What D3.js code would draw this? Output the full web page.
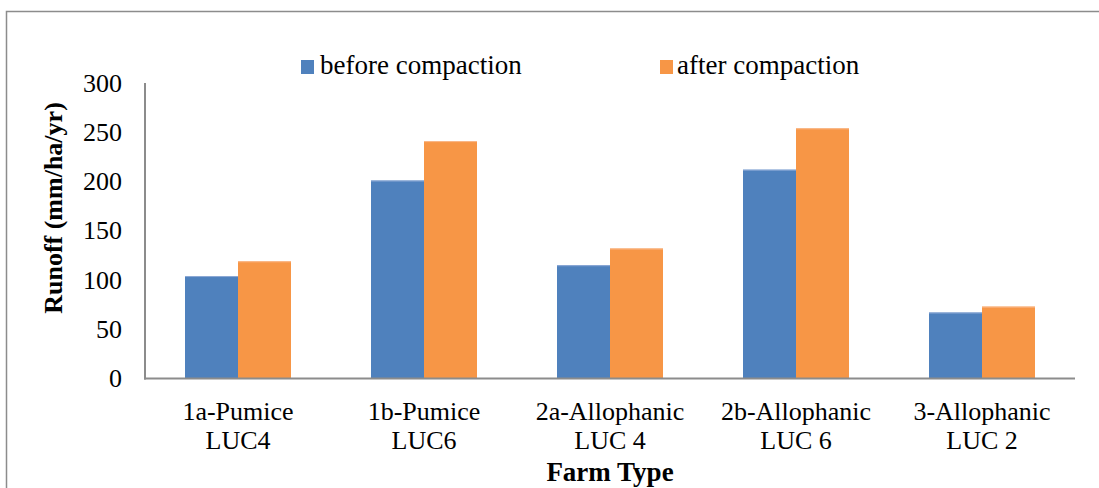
<!DOCTYPE html>
<html>
<head>
<meta charset="utf-8">
<script src="https://cdn.jsdelivr.net/npm/d3@7"></script>
<style>
  html, body { margin: 0; padding: 0; background: #fff; }
  svg { display: block; }
  text { font-family: "Liberation Serif", "Times New Roman", serif; fill: #000; }
</style>
</head>
<body>
<svg id="chart" width="1099" height="488"></svg>
<script>
const categories = [["1a-Pumice", "LUC4"], ["1b-Pumice", "LUC6"], ["2a-Allophanic", "LUC 4"], ["2b-Allophanic", "LUC 6"], ["3-Allophanic", "LUC 2"]];
const seriesNames = ["before compaction", "after compaction"];
const beforeValues = [104, 201, 115, 212, 67];
const afterValues = [119, 241, 132, 254, 73];
const yTicks = [0, 50, 100, 150, 200, 250, 300];
const colors = ["#4F81BD", "#F79646"];
const edgeColors = ["#8EAAD6", "#FAB98C"];

const svg = d3.select("#chart");

// outer chart border (extends beyond right/bottom edge)
svg.append("rect")
  .attr("x", 6.5).attr("y", 11.5)
  .attr("width", 1200).attr("height", 600)
  .attr("fill", "none").attr("stroke", "#8c8c8c").attr("stroke-width", 1.5);

const plot = { left: 145, right: 1075, top: 83, bottom: 378.5 };

const x0 = d3.scaleBand()
  .domain(categories.map((d, i) => i))
  .range([plot.left, plot.right])
  .paddingInner(0)
  .paddingOuter(0);

const barW = 53;
const y = d3.scaleLinear().domain([0, 300]).range([plot.bottom, plot.top]);

const data = categories.map((c, i) => ({ i, vals: [beforeValues[i], afterValues[i]] }));

const groups = svg.append("g").selectAll("g").data(data).join("g");
groups.each(function(d) {
  const g = d3.select(this);
  const cx = x0(d.i) + x0.bandwidth() / 2;
  d.vals.forEach((v, s) => {
    const bx = cx - barW + s * barW;
    g.append("rect")
      .attr("x", bx).attr("y", y(v))
      .attr("width", barW).attr("height", y(0) - y(v))
      .attr("fill", colors[s]);
    g.append("line")
      .attr("x1", bx).attr("x2", bx + barW)
      .attr("y1", y(v) + 0.5).attr("y2", y(v) + 0.5)
      .attr("stroke", edgeColors[s]).attr("stroke-width", 1);
  });
});

// y axis line
svg.append("line")
  .attr("x1", plot.left).attr("x2", plot.left)
  .attr("y1", plot.top).attr("y2", plot.bottom + 1)
  .attr("stroke", "#8c8c8c").attr("stroke-width", 2);
// x axis line
svg.append("line")
  .attr("x1", plot.left - 1).attr("x2", plot.right)
  .attr("y1", plot.bottom).attr("y2", plot.bottom)
  .attr("stroke", "#8c8c8c").attr("stroke-width", 2);

// y tick labels
svg.append("g").selectAll("text").data(yTicks).join("text")
  .attr("x", 122).attr("y", d => y(d))
  .attr("dy", "0.33em")
  .attr("text-anchor", "end")
  .attr("font-size", 26)
  .text(d => d);

// category labels
const catG = svg.append("g").selectAll("text").data(categories).join("text")
  .attr("text-anchor", "middle")
  .attr("font-size", 26);
catG.each(function(d, i) {
  const cx = x0(i) + x0.bandwidth() / 2;
  const t = d3.select(this);
  t.append("tspan").attr("x", cx).attr("y", 420).text(d[0]);
  t.append("tspan").attr("x", cx).attr("y", 449).text(d[1]);
});

// axis titles
svg.append("text")
  .attr("transform", "translate(62,208) rotate(-90)")
  .attr("text-anchor", "middle")
  .attr("font-size", 26).attr("font-weight", "bold")
  .text("Runoff (mm/ha/yr)");

svg.append("text")
  .attr("x", 610).attr("y", 481)
  .attr("text-anchor", "middle")
  .attr("font-size", 27).attr("font-weight", "bold")
  .text("Farm Type");

// legend
const legendPos = [301, 660];
const leg = svg.append("g").selectAll("g").data(seriesNames).join("g")
  .attr("transform", (d, i) => `translate(${legendPos[i]},0)`);
leg.append("rect").attr("x", 0).attr("y", 60).attr("width", 13).attr("height", 14)
  .attr("fill", (d, i) => colors[i]);
leg.append("text").attr("x", (d, i) => i === 0 ? 19 : 17).attr("y", 74)
  .attr("font-size", 27).text(d => d);
</script>
</body>
</html>
